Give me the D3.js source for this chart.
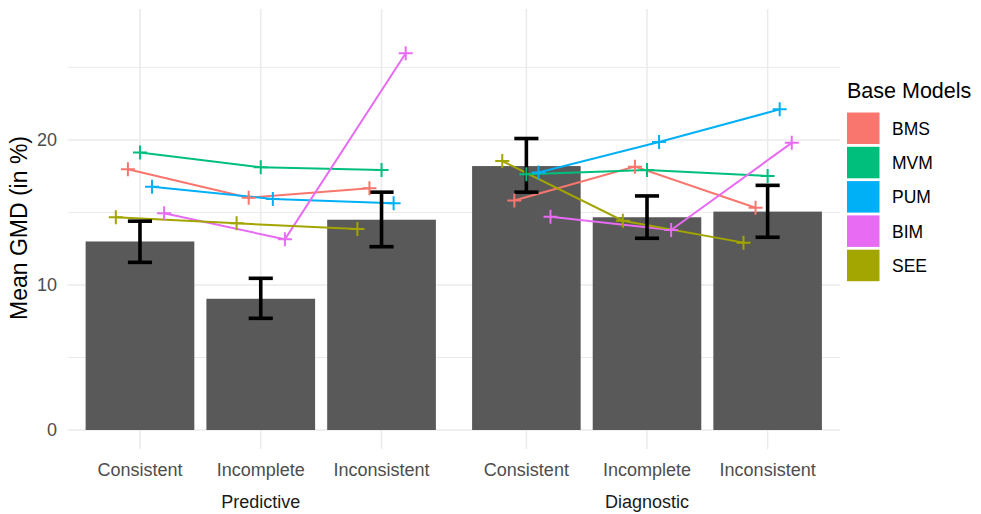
<!DOCTYPE html>
<html>
<head>
<meta charset="utf-8">
<script src="https://cdn.jsdelivr.net/npm/d3@7"></script>
<style>
  html, body { margin: 0; padding: 0; background: #fff; }
  svg { display: block; font-family: "Liberation Sans", Arial, sans-serif; }
</style>
</head>
<body>
<svg id="chart" width="981" height="514"></svg>
<script>
// ---------- data ----------
const panels = ["Predictive", "Diagnostic"];
const conditions = ["Consistent", "Incomplete", "Inconsistent"];
const models = ["BMS", "MVM", "PUM", "BIM", "SEE"];
const modelColors = ["#F8766D", "#00BF7D", "#00B0F6", "#E76BF3", "#A3A500"];
const dodgeOrder = ["SEE", "BMS", "MVM", "PUM", "BIM"];

// bar means and error-bar limits, per panel (order of conditions)
const barMean = {
  Predictive: [13.0, 9.05, 14.5],
  Diagnostic: [18.2, 14.67, 15.06]
};
const barLow = {
  Predictive: [11.56, 7.70, 12.64],
  Diagnostic: [16.4, 13.22, 13.29]
};
const barHigh = {
  Predictive: [14.4, 10.46, 16.4],
  Diagnostic: [20.1, 16.14, 16.87]
};

// per-model means (order of conditions)
const predictiveModels = {
  BMS: [17.98, 16.02, 16.67],
  MVM: [19.13, 18.11, 17.93],
  PUM: [16.78, 15.93, 15.63],
  BIM: [14.94, 13.15, 25.98],
  SEE: [14.67, 14.25, 13.86]
};
const diagnosticModels = {
  BMS: [15.82, 18.16, 15.33],
  MVM: [17.63, 17.93, 17.52],
  PUM: [17.75, 19.86, 22.11],
  BIM: [14.71, 13.79, 19.80],
  SEE: [18.55, 14.43, 12.92]
};
const modelData = { Predictive: predictiveModels, Diagnostic: diagnosticModels };

const yTicksMajor = [0, 10, 20];
const yTicksMinor = [5, 15, 25];

// ---------- layout ----------
const svg = d3.select("#chart");
const plotTop = 9, plotBottom = 430;
const panelRanges = { Predictive: [67.5, 454], Diagnostic: [454, 840] };

const y = d3.scaleLinear().domain([0, 29.03]).range([plotBottom, plotTop]);
const color = d3.scaleOrdinal().domain(models).range(modelColors);

const xScales = {};
panels.forEach(p => {
  xScales[p] = d3.scalePoint().domain(conditions).range(panelRanges[p]).padding(0.6);
});

const gridCol = "#EBEBEB";
const gGrid = svg.append("g");

// horizontal grid
const fullX0 = panelRanges.Predictive[0], fullX1 = panelRanges.Diagnostic[1];
gGrid.selectAll("line.minor").data(yTicksMinor).join("line")
  .attr("x1", fullX0).attr("x2", fullX1)
  .attr("y1", d => y(d)).attr("y2", d => y(d))
  .attr("stroke", gridCol).attr("stroke-width", 1);
gGrid.selectAll("line.major").data(yTicksMajor).join("line")
  .attr("x1", fullX0).attr("x2", fullX1)
  .attr("y1", d => y(d)).attr("y2", d => y(d))
  .attr("stroke", gridCol).attr("stroke-width", 1.6);

panels.forEach(p => {
  const x = xScales[p];
  const step = x.step();
  const dodge = d3.scalePoint().domain(dodgeOrder).range([-0.2 * step, 0.2 * step]);
  const g = svg.append("g");

  // vertical grid + ticks below
  g.selectAll("line.vg").data(conditions).join("line")
    .attr("x1", d => x(d)).attr("x2", d => x(d))
    .attr("y1", plotTop).attr("y2", plotBottom + 19)
    .attr("stroke", gridCol).attr("stroke-width", 1.6);

  // bars
  const bw = 0.9 * step;
  g.selectAll("rect.bar").data(conditions).join("rect")
    .attr("x", d => x(d) - bw / 2)
    .attr("width", bw)
    .attr("y", (d, i) => y(barMean[p][i]))
    .attr("height", (d, i) => y(0) - y(barMean[p][i]))
    .attr("fill", "#595959");

  // lines
  const line = d3.line().x(d => d.x).y(d => d.y);
  models.forEach(m => {
    const pts = conditions.map((c, i) => ({ x: x(c) + dodge(m), y: y(modelData[p][m][i]) }));
    g.append("path").datum(pts)
      .attr("d", line).attr("fill", "none")
      .attr("stroke", color(m)).attr("stroke-width", 2);
  });

  // error bars
  const cap = 0.1 * step;
  const eb = g.selectAll("g.eb").data(conditions).join("g")
    .attr("stroke", "#000").attr("stroke-width", 3.6).attr("fill", "none");
  eb.append("line")
    .attr("x1", d => x(d)).attr("x2", d => x(d))
    .attr("y1", (d, i) => y(barLow[p][i])).attr("y2", (d, i) => y(barHigh[p][i]));
  eb.append("line")
    .attr("x1", d => x(d) - cap).attr("x2", d => x(d) + cap)
    .attr("y1", (d, i) => y(barLow[p][i])).attr("y2", (d, i) => y(barLow[p][i]));
  eb.append("line")
    .attr("x1", d => x(d) - cap).attr("x2", d => x(d) + cap)
    .attr("y1", (d, i) => y(barHigh[p][i])).attr("y2", (d, i) => y(barHigh[p][i]));

  // points (plus shapes)
  const plus = d3.symbol().type(d3.symbolCross);
  models.forEach(m => {
    conditions.forEach((c, i) => {
      const cx = x(c) + dodge(m), cy = y(modelData[p][m][i]);
      const s = 7;
      g.append("path")
        .attr("d", `M${cx - s},${cy}H${cx + s}M${cx},${cy - s}V${cy + s}`)
        .attr("stroke", color(m)).attr("stroke-width", 2).attr("fill", "none");
    });
  });

  // x tick labels
  g.selectAll("text.xt").data(conditions).join("text")
    .attr("x", d => x(d)).attr("y", 476)
    .attr("text-anchor", "middle")
    .attr("font-size", 18).attr("fill", "#4D4D4D")
    .text(d => d);

  // panel label
  g.append("text")
    .attr("x", (panelRanges[p][0] + panelRanges[p][1]) / 2).attr("y", 508)
    .attr("text-anchor", "middle")
    .attr("font-size", 18).attr("fill", "#1A1A1A")
    .text(p);
});

// y tick labels
svg.append("g").selectAll("text").data(yTicksMajor).join("text")
  .attr("x", 57).attr("y", d => y(d))
  .attr("dy", "0.35em")
  .attr("text-anchor", "end")
  .attr("font-size", 18).attr("fill", "#4D4D4D")
  .text(d => d);

// y axis title
svg.append("text")
  .attr("transform", "translate(27,228) rotate(-90)")
  .attr("text-anchor", "middle")
  .attr("font-size", 23).attr("fill", "#000")
  .text("Mean GMD (in %)");

// legend
const leg = svg.append("g");
leg.append("text")
  .attr("x", 847).attr("y", 98)
  .attr("font-size", 21.5).attr("fill", "#000")
  .text("Base Models");
const keyH = 34.3;
const items = leg.selectAll("g.item").data(models).join("g")
  .attr("transform", (d, i) => `translate(847,${112.5 + i * keyH})`);
items.append("rect")
  .attr("x", 0).attr("y", 0).attr("width", 32.5).attr("height", 31.5)
  .attr("fill", d => color(d));
items.append("text")
  .attr("x", 45).attr("y", 16).attr("dy", "0.35em")
  .attr("font-size", 17.5).attr("fill", "#000")
  .text(d => d);
</script>
</body>
</html>
